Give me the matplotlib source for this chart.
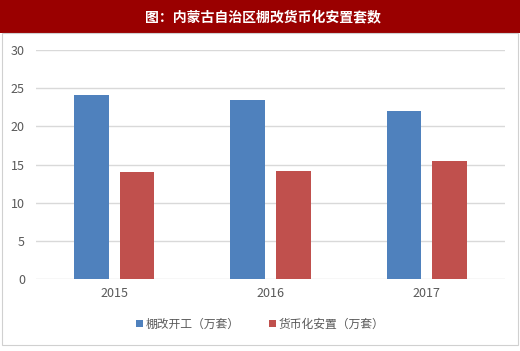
import matplotlib
matplotlib.use("Agg")
import matplotlib.pyplot as plt
import numpy as np

plt.rcParams['font.family'] = ['Noto Sans CJK SC', 'DejaVu Sans']

years = ['2015', '2016', '2017']
started = [24.1, 23.5, 22.0]      # 棚改开工（万套）
monetized = [14.0, 14.1, 15.4]    # 货币化安置（万套）

fig = plt.figure(figsize=(5.2, 3.51), dpi=100)

# title bar
fig.patches.append(plt.Rectangle((0, 1 - 33/351), 1, 33/351, transform=fig.transFigure,
                                 facecolor='#9A0000', edgecolor='none'))
fig.text(0.505, 1 - 17/351, '图：内蒙古自治区棚改货币化安置套数', color='white',
         fontsize=10, fontweight='bold', ha='center', va='center')
# outer frame
fig.patches.append(plt.Rectangle((0.004, 1 - 345/351), 0.992, (345 - 33)/351,
                                 transform=fig.transFigure, facecolor='none',
                                 edgecolor='#D0D0D0', lw=0.8))

ax = fig.add_axes([36/520, 1 - 279/351, (505 - 36)/520, (279 - 50)/351])
x = np.arange(len(years))
w = 0.223
off = 0.146
ax.bar(x - off, started, w, color='#4F81BD', label='棚改开工（万套）', zorder=3)
ax.bar(x + off, monetized, w, color='#C0504D', label='货币化安置（万套）', zorder=3)

ax.set_xlim(-0.5, 2.5)
ax.set_ylim(0, 30)
ax.set_yticks(range(0, 31, 5))
ax.set_xticks(x)
ax.set_xticklabels(years)
ax.grid(axis='y', color='#D9D9D9', lw=1, zorder=0)
for s in ax.spines.values():
    s.set_visible(False)
ax.tick_params(length=0, colors='#595959', labelsize=9)
ax.tick_params(axis='y', pad=8)
ax.tick_params(axis='x', pad=6)

fig.legend(loc='center', bbox_to_anchor=(0.5, 1 - 324/351), ncol=2, frameon=False,
           fontsize=8.5, labelcolor='#595959', handlelength=0.6, handleheight=0.6,
           handletextpad=0.2, columnspacing=2.5)

fig.savefig('out.png', dpi=100)
